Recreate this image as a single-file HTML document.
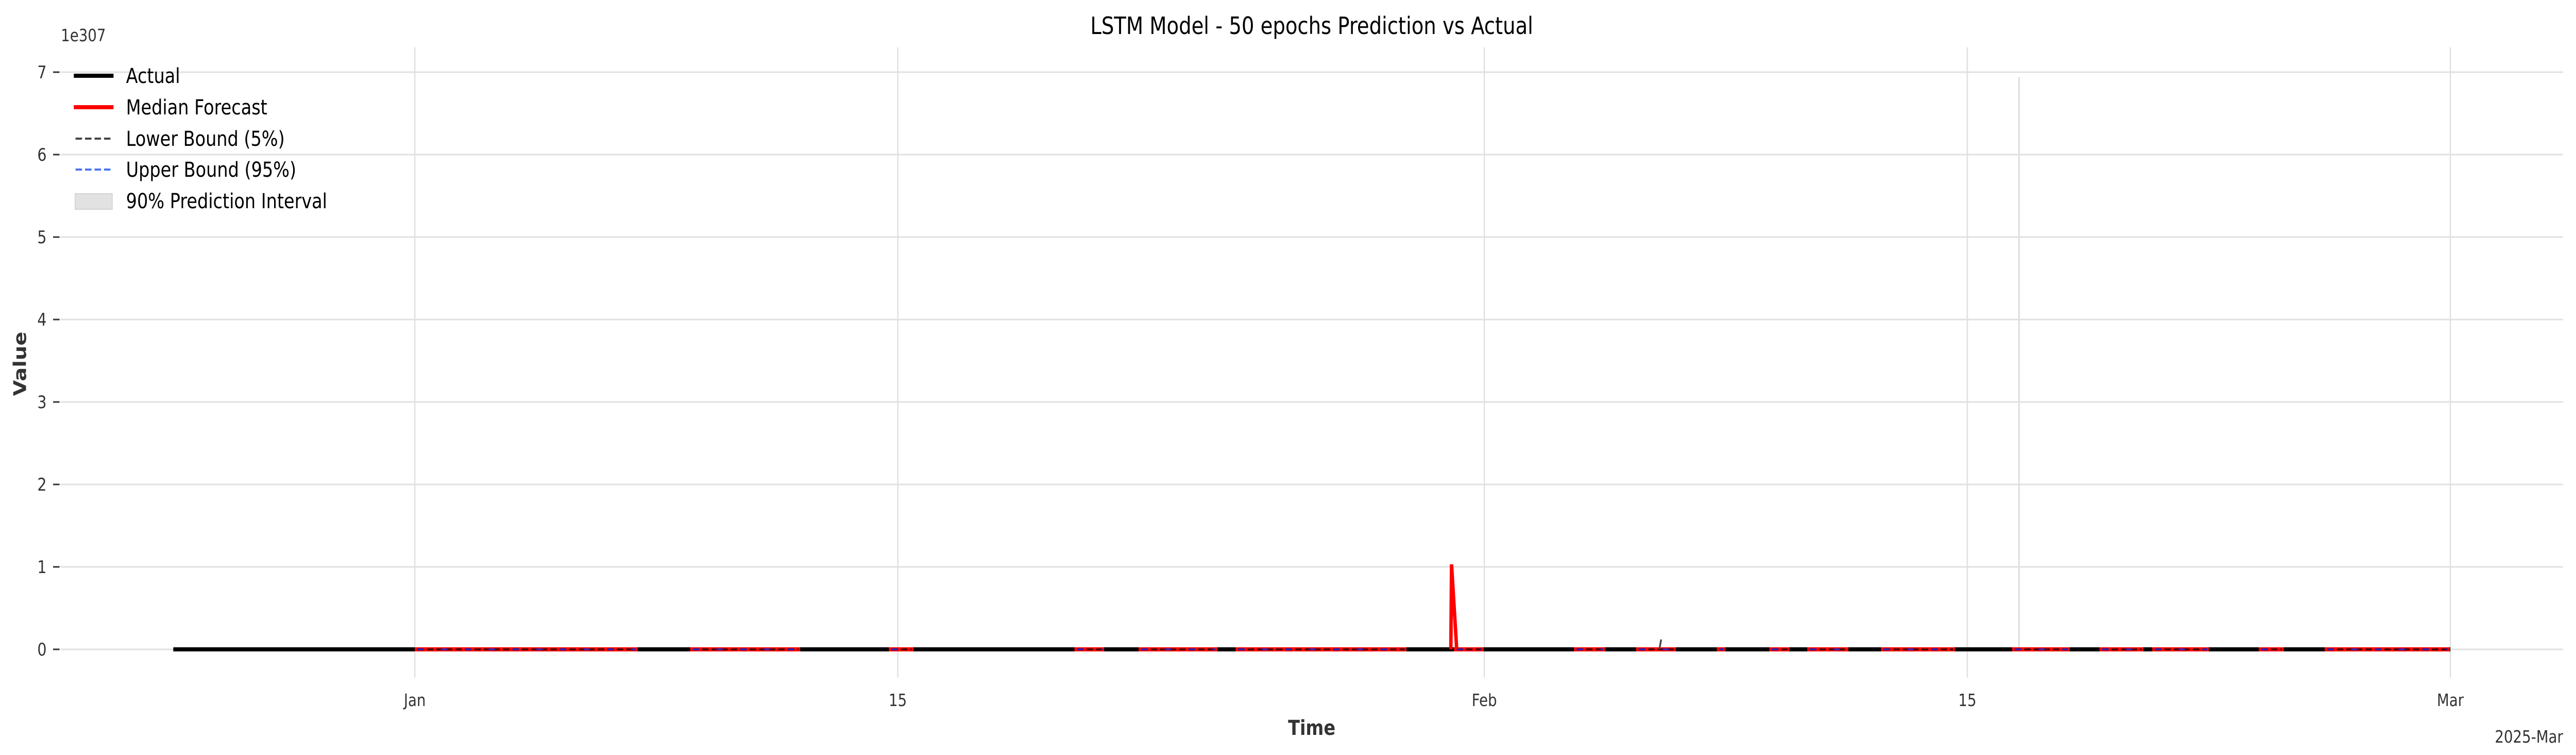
<!DOCTYPE html>
<html><head><meta charset="utf-8"><style>
html,body{margin:0;padding:0;background:#fff;width:100%;height:100%;overflow:hidden;}
svg{display:block;width:100vw;height:100vh;font-family:"DejaVu Sans","Liberation Sans",sans-serif;}
</style></head><body>
<svg id="chart" viewBox="0 0 5968 1465" preserveAspectRatio="none" xmlns="http://www.w3.org/2000/svg">
<rect width="5968" height="1465" fill="#fff"/>
<g id="grid"></g>
<g id="series"></g>
<g id="axes"></g>
<text x="3039" y="66" text-anchor="middle" font-size="46" fill="#000">LSTM Model - 50 epochs Prediction vs Actual</text>
<text x="141" y="80" font-size="33" fill="#333">1e307</text>
<text transform="translate(60,706) rotate(-90)" text-anchor="middle" font-size="40" font-weight="bold" fill="#333">Value</text>
<text x="3039" y="1426" text-anchor="middle" font-size="40" font-weight="bold" fill="#333">Time</text>
<text x="5938" y="1441" text-anchor="end" font-size="33" fill="#333">2025-Mar</text>
<g font-size="40" fill="#000">
 <g><line x1="171" x2="263" y1="147" y2="147" stroke="#000" stroke-width="8"/><text x="292" y="161">Actual</text></g>
 <g><line x1="171" x2="263" y1="208" y2="208" stroke="#f00" stroke-width="8"/><text x="292" y="222">Median Forecast</text></g>
 <g><line x1="175" x2="258" y1="269" y2="269" stroke="#444" stroke-width="4" stroke-dasharray="15,7"/><text x="292" y="283">Lower Bound (5%)</text></g>
 <g><line x1="175" x2="258" y1="329" y2="329" stroke="#4a74f0" stroke-width="4" stroke-dasharray="15,7"/><text x="292" y="343">Upper Bound (95%)</text></g>
 <g><rect x="174" y="376" width="86" height="30" fill="#e2e2e2" stroke="#d2d2d2" stroke-width="2"/><text x="292" y="404">90% Prediction Interval</text></g>
</g>
</svg>
<script>
// data (days relative to Jan 1; values in units of 1e307)
const yTicks = [0,1,2,3,4,5,6,7];
const xTickDays = [0,14,31,45,59];
const xTickLabels = ["Jan","15","Feb","15","Mar"];
const actualStart = -7;
const actualEnd = 59;
const forecastGapStarts = [0,7.98,13.74,19.12,20.98,23.79,30.12,33.6,35.4,37.74,39.26,40.36,42.5,46.3,48.83,50.36,53.45,55.36];
const forecastGapEnds   = [6.46,11.17,14.45,19.98,23.26,28.74,30.98,34.5,36.55,37.98,39.84,41.55,44.64,47.97,50.1,52.0,54.17,58.98];
const medianSpikeDays = [30.05,30.2];
const medianSpikeValues = [1.03,0];
const lowerSpikeDay = 36.1;
const lowerSpikeValue = 0.12;
const intervalSpikeDay = 46.5;
const intervalSpikeValue = 6.94;

const NS="http://www.w3.org/2000/svg";
const X0=961, DX=79.93, Y0=1260, DY=160;
const PL=140, PR=5938, PT=92;
function xs(d){return X0+d*DX;}
function ys(v){return Y0-v*DY;}
function mk(parent,tag,attrs){const e=document.createElementNS(NS,tag);for(const k in attrs)e.setAttribute(k,attrs[k]);parent.appendChild(e);return e;}
const grid=document.getElementById('grid'), ser=document.getElementById('series'), ax=document.getElementById('axes');

yTicks.forEach(v=>{
  const g=mk(grid,'line',{x1:PL,x2:PR,y1:ys(v),y2:ys(v),stroke:'#e0e0e0','stroke-width':3});
  
  
  const t=mk(ax,'line',{x1:123,x2:138,y1:ys(v),y2:ys(v),stroke:'#333','stroke-width':3});
  
  
  const l=mk(ax,'text',{x:108,y:ys(v)+12,'text-anchor':'end','font-size':34,fill:'#333'});
  l.textContent=String(v);
  
  
});
xTickDays.forEach((d,i)=>{
  const g=mk(grid,'line',{x1:xs(d),x2:xs(d),y1:PT,y2:1315,stroke:'#e0e0e0','stroke-width':3});
  
  
  const l=mk(ax,'text',{x:xs(d),y:1370,'text-anchor':'middle','font-size':33,fill:'#333'});
  l.textContent=xTickLabels[i];
  
  
});

const iv=mk(ser,'line',{x1:xs(intervalSpikeDay),x2:xs(intervalSpikeDay),y1:ys(0),y2:ys(intervalSpikeValue),stroke:'#e0e0e0','stroke-width':4});



const act=mk(ser,'line',{x1:xs(actualStart),x2:xs(actualEnd),y1:ys(0),y2:ys(0),stroke:'#000','stroke-width':8});



forecastGapStarts.forEach((s,i)=>{
  const e=forecastGapEnds[i];
  const r=mk(ser,'line',{x1:xs(s),x2:xs(e),y1:ys(0),y2:ys(0),stroke:'#f00','stroke-width':8});
  
  
  const lo=mk(ser,'line',{x1:xs(s)+6,x2:xs(e)-4,y1:ys(0),y2:ys(0),stroke:'#5a0000','stroke-width':4,'stroke-dasharray':'15,7'});
  
  
  const up=mk(ser,'line',{x1:xs(s)+6,x2:xs(e)-4,y1:ys(0),y2:ys(0),stroke:'#2a2ad0','stroke-width':4,'stroke-dasharray':'15,40','opacity':0.8});
  
  
});

const pts=[[medianSpikeDays[0]-0.02,0],[medianSpikeDays[0],medianSpikeValues[0]],[medianSpikeDays[1],medianSpikeValues[1]]];
const sp=mk(ser,'polyline',{points:pts.map(p=>xs(p[0])+','+ys(p[1])).join(' '),fill:'none',stroke:'#f00','stroke-width':8});



const ls=mk(ser,'line',{x1:xs(lowerSpikeDay)-2,x2:xs(lowerSpikeDay)+2,y1:ys(0),y2:ys(lowerSpikeValue),stroke:'#444','stroke-width':4});


</script>
</body></html>
